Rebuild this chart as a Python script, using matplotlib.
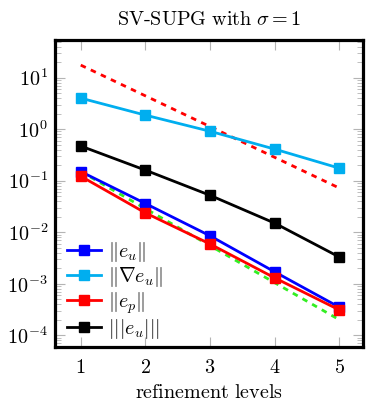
import numpy as np
import matplotlib
matplotlib.use('Agg')
import matplotlib.pyplot as plt
from matplotlib.ticker import LogLocator, FixedLocator, FuncFormatter, NullFormatter

plt.rcParams['mathtext.fontset'] = 'cm'
plt.rcParams['font.family'] = 'serif'
plt.rcParams['font.serif'] = ['cmr10', 'DejaVu Serif']
plt.rcParams['axes.formatter.use_mathtext'] = True

# data
levels = [1, 2, 3, 4, 5]
err_u = [0.15, 0.036, 0.0085, 0.0017, 0.00035]
err_grad_u = [4.0, 1.87, 0.91, 0.41, 0.175]
err_p = [0.122, 0.0237, 0.0059, 0.0013, 0.00031]
err_energy = [0.47, 0.16, 0.052, 0.015, 0.0033]
ref_red = [17.5, 0.072]
ref_green = [0.15, 0.0002]
ref_x = [1, 5]

fs = 14.5

fig = plt.figure(figsize=(3.66, 4.03), dpi=100)
ax = fig.add_axes([0.150, 0.139, 0.842, 0.762])

ax.plot(ref_x, ref_red, color='red', ls=(0, (2.0, 2.0)), lw=2.0, zorder=2)
ax.plot(ref_x, ref_green, color='#33ee22', ls=(0, (2.0, 2.0)), lw=2.0, zorder=2)

mk = dict(marker='s', markersize=7.5, lw=2.0)
ax.plot(levels, err_u, color='blue', label=r'$\|e_u\|$', zorder=4, **mk)
ax.plot(levels, err_grad_u, color='#00aeef', label=r'$\|\nabla e_u\|$', zorder=3, **mk)
ax.plot(levels, err_p, color='red', label=r'$\|e_p\|$', zorder=5, **mk)
ax.plot(levels, err_energy, color='black', label=r'$|||e_u|||$', zorder=3, **mk)

ax.set_yscale('log')
ax.set_ylim(5.9e-5, 54)
ax.set_xlim(0.6, 5.37)
ax.xaxis.set_major_locator(FixedLocator(levels))
ax.xaxis.set_major_formatter(FuncFormatter(lambda v, p: r'$%d$' % v))
ax.yaxis.set_major_locator(LogLocator(base=10, numticks=20))
ax.yaxis.set_minor_locator(LogLocator(base=10, subs=np.arange(2, 10), numticks=20))
ax.yaxis.set_minor_formatter(NullFormatter())

ax.tick_params(which='both', direction='in', top=True, right=True, color='#b4b4b4', labelsize=fs)
ax.tick_params(which='major', length=7, width=0.8)
ax.tick_params(which='minor', length=4, width=0.6)
ax.tick_params(axis='x', pad=9)
ax.tick_params(axis='y', pad=5)
for s in ax.spines.values():
    s.set_linewidth(2.3)

ax.set_title(r'$\mathrm{SV\text{-}SUPG\ with\ }\sigma = 1$', fontsize=fs, pad=11)
ax.set_xlabel(r'$\mathrm{refinement\ levels}$', fontsize=fs, labelpad=5)

ax.legend(loc='lower left', bbox_to_anchor=(0.02, 0.0), frameon=False, fontsize=fs,
          handlelength=1.7, handletextpad=0.35, labelspacing=0.05,
          borderaxespad=0.1, borderpad=0.2)

fig.savefig('out.png', dpi=100)
